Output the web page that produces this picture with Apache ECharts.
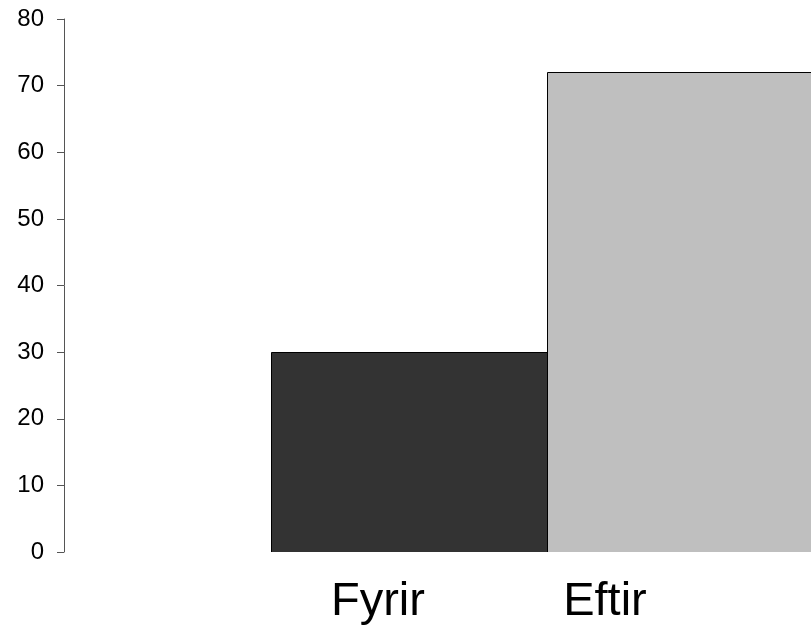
<!DOCTYPE html>
<html>
<head>
<meta charset="utf-8">
<script src="https://cdn.jsdelivr.net/npm/echarts@6/dist/echarts.min.js"></script>
<style>html,body{margin:0;padding:0;background:#fff}#c{width:811px;height:626px}</style>
</head>
<body>
<div id="c"></div>
<script>
var categories = ['Fyrir', 'Eftir'];
var values = [30, 72];
var barStart = [27.71, 64.66];
var barEnd = [64.66, 101.6];
var labelAt = [42.03, 72.42];
var barColors = ['#333333', '#bfbfbf'];
var yTicks = [0, 10, 20, 30, 40, 50, 60, 70, 80];

var chart = echarts.init(document.getElementById('c'), null, {renderer: 'canvas'});
var seriesData = categories.map(function (c, i) {
  return {name: c, value: [barStart[i], barEnd[i], values[i]], itemStyle: {color: barColors[i]}};
});
chart.setOption({
  animation: false,
  backgroundColor: '#ffffff',
  grid: {left: 64, right: 0, top: 19, bottom: 73, containLabel: false},
  xAxis: {
    type: 'value', min: 0, max: 100,
    axisLine: {show: false}, axisTick: {show: false}, splitLine: {show: false},
    axisLabel: {
      customValues: labelAt,
      margin: 27,
      fontFamily: 'Liberation Sans, Arial, sans-serif',
      fontSize: 47, color: '#000',
      formatter: function (v) {
        for (var i = 0; i < labelAt.length; i++) if (Math.abs(labelAt[i] - v) < 1e-6) return categories[i];
        return '';
      }
    }
  },
  yAxis: {
    type: 'value', min: 0, max: 80, interval: 10,
    axisLine: {show: true, lineStyle: {color: '#555', width: 1}},
    axisTick: {show: true, length: 7, lineStyle: {color: '#555'}},
    splitLine: {show: false},
    axisLabel: {
      margin: 20, color: '#000', fontSize: 24,
      fontFamily: 'Liberation Sans, Arial, sans-serif',
      formatter: function (v) { return yTicks.indexOf(v) >= 0 ? String(v) : ''; }
    }
  },
  series: [{
    type: 'custom',
    clip: true,
    data: seriesData,
    encode: {x: [0, 1], y: 2},
    renderItem: function (params, api) {
      var p0 = api.coord([api.value(0), api.value(2)]);
      var p1 = api.coord([api.value(1), 0]);
      var rect = {x: Math.round(p0[0]) + 0.5, y: Math.round(p0[1]) + 0.5,
                  width: Math.round(p1[0]) - Math.round(p0[0]), height: Math.round(p1[1]) - Math.round(p0[1])};
      return {
        type: 'rect',
        shape: rect,
        style: {fill: api.visual('color'), stroke: '#000', lineWidth: 1}
      };
    }
  }]
});
</script>
</body>
</html>
